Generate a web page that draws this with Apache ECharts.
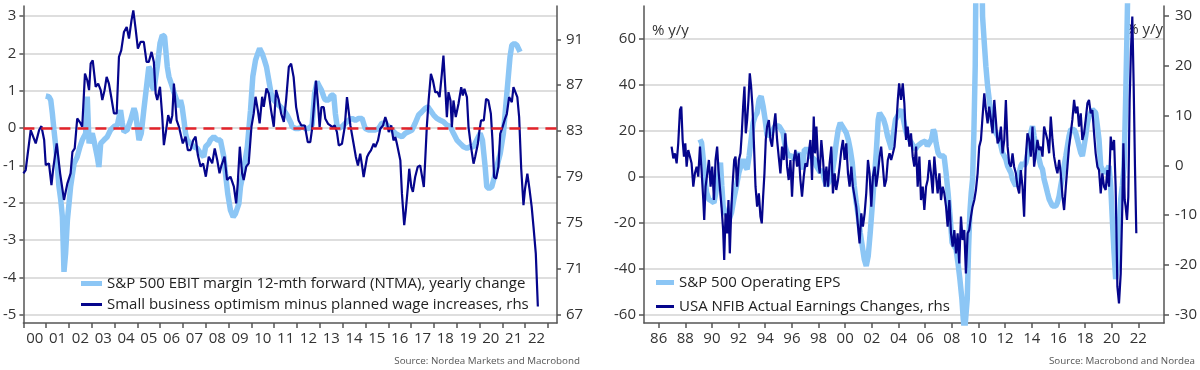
<!DOCTYPE html>
<html>
<head>
<meta charset="utf-8">
<script src="https://cdn.jsdelivr.net/npm/echarts@6/dist/echarts.min.js"></script>
<style>
html,body{margin:0;padding:0;background:#fff;}
#chart{width:1200px;height:370px;}
</style>
</head>
<body>
<div id="chart"></div>
<script>
// ---------- Left chart data ----------
const leftXTicks = [2000,2001,2002,2003,2004,2005,2006,2007,2008,2009,2010,2011,2012,2013,2014,2015,2016,2017,2018,2019,2020,2021,2022,2023];
const leftXLabelPos = [2000.5,2001.5,2002.5,2003.5,2004.5,2005.5,2006.5,2007.5,2008.5,2009.5,2010.5,2011.5,2012.5,2013.5,2014.5,2015.5,2016.5,2017.5,2018.5,2019.5,2020.5,2021.5,2022.5];
const leftYTicks = [-5,-4,-3,-2,-1,0,1,2,3];
const leftY2Ticks = [67,71,75,79,83,87,91];

const ebitMarginName = 'S&P 500 EBIT margin 12-mth forward (NTMA), yearly change';
const ebitMargin = [
[2000.98,0.86],[2001.12,0.84],[2001.20,0.75],[2001.27,0.39],[2001.34,-0.05],[2001.42,-0.50],[2001.49,-1.04],[2001.56,-1.57],[2001.64,-1.93],[2001.71,-2.38],[2001.78,-3.85],[2001.85,-3.36],[2001.93,-2.46],[2002.00,-2.02],[2002.07,-1.57],[2002.22,-0.95],[2002.36,-0.77],[2002.48,-0.50],[2002.58,-0.32],[2002.66,-0.23],[2002.73,-0.14],[2002.80,0.84],[2002.88,-0.41],[2002.95,-0.23],[2003.02,-0.14],[2003.09,-0.32],[2003.24,-0.77],[2003.31,-1.04],[2003.39,-0.41],[2003.53,-0.32],[2003.68,-0.23],[2003.82,-0.05],[2003.97,0.04],[2004.12,0.08],[2004.26,0.48],[2004.34,0.13],[2004.41,-0.10],[2004.55,-0.05],[2004.70,0.21],[2004.85,0.53],[2004.92,0.39],[2005.07,-0.32],[2005.17,-0.14],[2005.28,0.48],[2005.40,1.11],[2005.50,1.64],[2005.58,1.55],[2005.65,1.11],[2005.72,1.02],[2005.80,1.02],[2005.87,1.64],[2005.99,2.27],[2006.09,2.49],[2006.19,2.45],[2006.31,1.64],[2006.38,1.38],[2006.48,1.20],[2006.57,1.02],[2006.67,0.84],[2006.74,0.84],[2006.82,0.57],[2006.89,0.75],[2006.96,0.57],[2007.04,0.21],[2007.11,-0.14],[2007.18,-0.32],[2007.33,-0.41],[2007.47,-0.50],[2007.62,-0.54],[2007.77,-0.68],[2007.91,-0.77],[2007.99,-0.50],[2008.13,-0.41],[2008.20,-0.32],[2008.35,-0.23],[2008.50,-0.32],[2008.64,-0.32],[2008.79,-0.77],[2008.86,-1.21],[2008.96,-1.75],[2009.08,-2.20],[2009.20,-2.38],[2009.30,-2.29],[2009.45,-2.02],[2009.52,-1.57],[2009.66,-1.13],[2009.82,-0.50],[2009.96,0.48],[2010.06,1.38],[2010.18,1.82],[2010.28,2.00],[2010.36,2.13],[2010.47,2.00],[2010.57,1.82],[2010.66,1.64],[2010.76,1.29],[2010.86,0.93],[2010.98,0.75],[2011.12,0.66],[2011.27,0.57],[2011.42,0.48],[2011.56,0.35],[2011.74,0.13],[2011.78,0.04],[2011.93,-0.01],[2012.07,-0.01],[2012.22,0.04],[2012.37,-0.01],[2012.51,-0.01],[2012.66,0.08],[2012.77,0.93],[2012.88,1.24],[2012.95,1.15],[2013.07,1.02],[2013.17,0.84],[2013.24,0.75],[2013.39,0.75],[2013.50,0.88],[2013.61,0.88],[2013.68,0.39],[2013.75,0.08],[2013.83,-0.01],[2013.97,0.04],[2014.12,0.13],[2014.26,0.21],[2014.41,0.26],[2014.56,0.21],[2014.70,0.26],[2014.85,0.26],[2014.99,-0.01],[2015.14,-0.05],[2015.29,-0.05],[2015.43,-0.05],[2015.58,-0.01],[2015.72,0.13],[2015.87,0.13],[2016.02,0.04],[2016.16,-0.05],[2016.31,-0.14],[2016.45,-0.19],[2016.60,-0.23],[2016.75,-0.14],[2016.89,-0.10],[2017.04,-0.05],[2017.18,0.13],[2017.33,0.35],[2017.48,0.44],[2017.62,0.53],[2017.74,0.57],[2017.84,0.48],[2017.99,0.35],[2018.13,0.26],[2018.28,0.21],[2018.42,0.17],[2018.57,0.08],[2018.72,0.04],[2018.86,-0.14],[2019.01,-0.32],[2019.15,-0.41],[2019.30,-0.50],[2019.45,-0.54],[2019.59,-0.50],[2019.74,-0.50],[2019.88,-0.32],[2020.03,-0.14],[2020.13,-0.32],[2020.25,-1.04],[2020.32,-1.57],[2020.42,-1.62],[2020.54,-1.57],[2020.66,-1.30],[2020.76,-1.04],[2020.91,-0.68],[2021.05,-0.14],[2021.15,0.57],[2021.24,1.20],[2021.34,1.91],[2021.42,2.22],[2021.53,2.27],[2021.64,2.22],[2021.78,2.04]
];

const smallBizName = 'Small business optimism minus planned wage increases, rhs';
const smallBiz = [
[2000.00,79.32],[2000.10,79.61],[2000.32,83.09],[2000.39,83.23],[2000.54,81.93],[2000.69,83.09],[2000.79,83.43],[2000.91,82.22],[2000.98,80.04],[2001.12,80.19],[2001.23,78.30],[2001.30,79.61],[2001.46,81.93],[2001.61,79.32],[2001.78,77.00],[2001.93,78.45],[2002.07,79.32],[2002.15,81.20],[2002.25,81.49],[2002.36,84.10],[2002.51,83.67],[2002.58,83.38],[2002.70,88.01],[2002.80,87.43],[2002.88,86.57],[2002.95,88.88],[2003.04,89.17],[2003.17,86.86],[2003.28,87.14],[2003.39,86.57],[2003.46,85.70],[2003.56,86.57],[2003.65,87.72],[2003.75,87.14],[2003.85,85.99],[2003.97,84.54],[2004.09,84.54],[2004.19,89.46],[2004.29,90.04],[2004.41,91.64],[2004.53,92.07],[2004.63,91.06],[2004.74,92.65],[2004.82,93.52],[2004.92,91.93],[2005.02,90.19],[2005.14,90.77],[2005.28,90.77],[2005.40,89.03],[2005.50,89.03],[2005.62,89.90],[2005.72,89.03],[2005.80,86.28],[2005.87,85.70],[2005.99,86.86],[2006.09,84.25],[2006.16,81.78],[2006.26,83.09],[2006.35,84.39],[2006.45,83.67],[2006.53,84.39],[2006.60,87.14],[2006.72,83.96],[2006.82,83.38],[2006.89,82.80],[2006.99,81.93],[2007.11,82.51],[2007.21,81.35],[2007.33,81.35],[2007.45,82.22],[2007.55,82.51],[2007.65,80.91],[2007.77,79.90],[2007.88,80.19],[2008.00,79.03],[2008.13,80.77],[2008.28,80.19],[2008.39,81.49],[2008.50,80.48],[2008.60,79.32],[2008.69,80.04],[2008.82,80.77],[2008.93,78.74],[2009.08,79.03],[2009.23,78.16],[2009.33,76.71],[2009.40,78.45],[2009.49,81.64],[2009.59,79.32],[2009.66,78.74],[2009.77,79.90],[2009.88,80.19],[2010.00,83.38],[2010.10,84.54],[2010.18,85.99],[2010.28,84.83],[2010.36,83.67],[2010.47,85.99],[2010.54,85.12],[2010.66,86.71],[2010.76,86.28],[2010.86,84.83],[2010.98,83.38],[2011.08,86.57],[2011.20,85.70],[2011.30,84.54],[2011.42,83.81],[2011.52,85.70],[2011.64,88.59],[2011.74,88.88],[2011.85,87.70],[2011.96,85.09],[2012.07,83.93],[2012.19,83.49],[2012.34,83.49],[2012.47,82.04],[2012.58,82.04],[2012.66,83.20],[2012.73,83.35],[2012.83,87.41],[2012.91,85.67],[2012.99,83.35],[2013.07,85.09],[2013.17,85.09],[2013.24,84.07],[2013.36,83.64],[2013.46,83.49],[2013.56,83.35],[2013.65,83.49],[2013.75,82.91],[2013.83,81.75],[2013.97,81.90],[2014.09,83.35],[2014.19,85.96],[2014.26,84.80],[2014.34,83.49],[2014.41,83.35],[2014.48,81.90],[2014.58,80.74],[2014.67,80.01],[2014.77,81.03],[2014.85,80.01],[2014.92,79.00],[2014.99,78.86],[2015.07,80.74],[2015.14,81.03],[2015.24,81.32],[2015.36,81.90],[2015.43,81.61],[2015.55,82.19],[2015.65,83.20],[2015.77,83.49],[2015.87,84.22],[2015.94,83.78],[2016.02,82.91],[2016.13,83.49],[2016.23,82.19],[2016.31,82.48],[2016.38,81.90],[2016.45,81.75],[2016.53,80.45],[2016.60,77.55],[2016.70,74.80],[2016.77,76.10],[2016.86,78.13],[2016.92,79.72],[2017.01,78.13],[2017.08,77.70],[2017.18,79.00],[2017.29,79.87],[2017.40,80.01],[2017.48,80.16],[2017.56,78.13],[2017.62,80.45],[2017.69,83.35],[2017.77,85.67],[2017.87,87.99],[2017.96,87.41],[2018.06,86.39],[2018.16,86.39],[2018.25,85.96],[2018.35,87.99],[2018.42,89.58],[2018.50,86.83],[2018.57,84.22],[2018.64,86.39],[2018.73,85.67],[2018.79,83.35],[2018.86,85.67],[2018.96,84.22],[2019.08,85.38],[2019.20,86.83],[2019.27,86.10],[2019.34,86.68],[2019.45,85.96],[2019.52,83.35],[2019.62,81.75],[2019.74,80.16],[2019.81,80.74],[2019.93,81.90],[2020.00,83.06],[2020.07,83.93],[2020.19,83.93],[2020.29,85.81],[2020.39,85.67],[2020.50,84.51],[2020.57,82.19],[2020.64,79.00],[2020.73,78.86],[2020.83,79.87],[2020.91,82.77],[2021.01,83.35],[2021.12,84.07],[2021.20,84.51],[2021.30,85.96],[2021.42,85.52],[2021.49,86.83],[2021.56,86.97],[2021.66,85.96],[2021.74,84.22],[2021.83,79.74],[2021.93,76.55],[2022.00,78.00],[2022.10,79.30],[2022.19,78.00],[2022.29,76.39],[2022.37,74.65],[2022.47,72.33],[2022.56,67.72]
];

// ---------- Right chart data ----------
const rightXTicks = [1986,1988,1990,1992,1994,1996,1998,2000,2002,2004,2006,2008,2010,2012,2014,2016,2018,2020,2022];
const rightYTicks = [-60,-40,-20,0,20,40,60];
const rightY2Ticks = [-30,-20,-10,0,10,20,30];

const epsName = 'S&P 500 Operating EPS';
const eps = [
[1989.10,16.23],[1989.22,14.78],[1989.35,7.54],[1989.47,-1.16],[1989.60,-6.96],[1989.77,-9.86],[1989.97,-10.58],[1990.15,-11.30],[1990.29,-6.96],[1990.47,-1.16],[1990.64,6.09],[1990.74,-4.06],[1990.84,-12.75],[1990.99,-15.65],[1991.14,-17.10],[1991.29,-18.55],[1991.47,-15.65],[1991.64,-9.86],[1991.84,-4.06],[1992.02,1.74],[1992.17,4.64],[1992.34,7.54],[1992.49,4.64],[1992.64,3.19],[1992.79,8.99],[1992.94,16.23],[1993.09,23.48],[1993.24,26.38],[1993.39,27.83],[1993.54,33.62],[1993.69,35.07],[1993.84,30.72],[1993.99,24.93],[1994.14,17.68],[1994.29,17.68],[1994.44,19.13],[1994.59,20.58],[1994.74,22.03],[1994.89,22.75],[1995.04,22.03],[1995.19,22.03],[1995.34,19.13],[1995.49,13.33],[1995.64,10.43],[1995.79,8.99],[1995.99,8.99],[1996.19,7.54],[1996.34,8.99],[1996.49,10.43],[1996.64,7.54],[1996.79,3.19],[1996.94,11.88],[1997.09,12.61],[1997.24,11.88],[1997.39,8.99],[1997.54,8.99],[1997.69,7.54],[1997.84,4.64],[1997.99,3.19],[1998.14,1.74],[1998.29,3.19],[1998.44,-1.16],[1998.59,-4.06],[1998.73,-4.06],[1998.88,-1.16],[1999.03,1.74],[1999.18,7.54],[1999.33,14.78],[1999.48,20.58],[1999.63,23.48],[1999.78,22.03],[1999.93,20.58],[2000.08,19.13],[2000.23,16.23],[2000.38,11.88],[2000.53,6.09],[2000.68,-4.06],[2000.83,-11.30],[2000.98,-17.10],[2001.13,-24.35],[2001.28,-30.14],[2001.43,-35.94],[2001.58,-38.84],[2001.73,-34.49],[2001.88,-24.35],[2002.03,-12.75],[2002.18,-1.16],[2002.33,10.43],[2002.48,24.93],[2002.58,27.83],[2002.73,27.83],[2002.88,24.93],[2003.03,22.03],[2003.18,17.68],[2003.33,14.78],[2003.48,11.88],[2003.63,19.13],[2003.78,24.93],[2003.93,26.38],[2004.08,27.83],[2004.23,29.28],[2004.37,24.93],[2004.52,20.58],[2004.67,17.68],[2004.82,16.23],[2004.97,14.78],[2005.12,13.33],[2005.27,11.88],[2005.42,13.33],[2005.57,14.06],[2005.72,14.78],[2005.87,14.78],[2006.02,15.51],[2006.17,13.33],[2006.32,14.78],[2006.47,16.23],[2006.62,20.58],[2006.72,19.13],[2006.82,14.78],[2006.97,10.43],[2007.12,8.99],[2007.27,8.99],[2007.42,8.99],[2007.57,1.74],[2007.72,-6.96],[2007.87,-17.10],[2008.02,-28.70],[2008.17,-30.14],[2008.32,-31.59],[2008.46,-37.39],[2008.61,-44.64],[2008.76,-53.33],[2008.86,-62.03],[2008.96,-67.83],[2009.06,-67.83],[2009.16,-53.33],[2009.26,-31.59],[2009.36,-15.65],[2009.46,-6.96],[2009.56,-1.16],[2009.66,19.13],[2009.76,48.12],[2009.86,120],[2010.06,180],[2010.31,69.86],[2010.44,58.26],[2010.56,48.12],[2010.69,39.42],[2010.81,33.62],[2010.94,27.83],[2011.06,23.48],[2011.19,20.58],[2011.31,19.13],[2011.44,17.68],[2011.56,16.23],[2011.69,13.33],[2011.81,10.43],[2011.94,8.99],[2012.06,7.54],[2012.19,4.64],[2012.31,3.19],[2012.44,1.74],[2012.56,-1.16],[2012.68,-2.61],[2012.81,-4.06],[2012.93,-1.16],[2013.06,1.74],[2013.18,4.64],[2013.31,6.09],[2013.43,4.64],[2013.56,6.09],[2013.68,8.99],[2013.81,14.78],[2013.93,19.13],[2014.06,22.03],[2014.18,17.68],[2014.31,13.33],[2014.43,10.43],[2014.56,7.54],[2014.68,4.64],[2014.81,3.19],[2014.93,-1.16],[2015.06,-4.06],[2015.18,-6.96],[2015.31,-9.86],[2015.43,-11.30],[2015.56,-12.75],[2015.68,-13.48],[2015.81,-12.75],[2015.93,-11.30],[2016.06,-8.41],[2016.18,-4.06],[2016.31,0.29],[2016.43,4.64],[2016.56,8.99],[2016.68,13.33],[2016.80,17.68],[2016.93,20.58],[2017.05,21.30],[2017.18,20.58],[2017.30,19.13],[2017.43,16.23],[2017.55,13.33],[2017.68,10.43],[2017.80,8.99],[2017.93,13.33],[2018.05,17.68],[2018.18,23.48],[2018.30,26.38],[2018.43,27.83],[2018.55,29.28],[2018.68,29.28],[2018.80,27.83],[2018.93,22.03],[2019.05,16.23],[2019.18,4.64],[2019.30,3.19],[2019.43,1.74],[2019.55,1.74],[2019.68,3.19],[2019.80,4.64],[2019.93,-4.06],[2020.05,-18.55],[2020.18,-33.04],[2020.30,-44.64],[2020.43,-38.84],[2020.55,-24.35],[2020.68,-9.86],[2020.80,-4.06],[2020.93,4.64],[2021.05,33.62],[2021.15,62.61],[2021.25,95]
];

const nfibName = 'USA NFIB Actual Earnings Changes, rhs';
const nfib = [
[1986.97,3.75],[1987.10,1.41],[1987.22,2.41],[1987.35,0.40],[1987.47,4.42],[1987.60,11.12],[1987.70,11.79],[1987.80,5.09],[1987.90,1.74],[1988.00,4.42],[1988.10,-0.27],[1988.22,3.08],[1988.35,1.74],[1988.47,0.40],[1988.60,-4.29],[1988.72,-1.61],[1988.85,-0.27],[1988.97,-2.28],[1989.10,3.75],[1989.22,-0.94],[1989.35,-6.97],[1989.42,-10.98],[1989.52,-4.29],[1989.65,-1.61],[1989.77,1.07],[1989.90,-4.29],[1990.02,-0.27],[1990.15,-6.97],[1990.27,1.07],[1990.39,3.75],[1990.49,-0.94],[1990.59,-4.29],[1990.72,-8.31],[1990.84,-12.99],[1990.92,-19.02],[1991.02,-9.65],[1991.14,-13.66],[1991.24,-6.97],[1991.34,-17.68],[1991.44,-9.65],[1991.54,-4.29],[1991.67,1.07],[1991.77,1.74],[1991.89,-4.29],[1992.02,1.07],[1992.14,2.41],[1992.24,6.43],[1992.34,11.79],[1992.44,15.81],[1992.54,6.43],[1992.64,9.11],[1992.74,13.13],[1992.84,18.49],[1992.94,15.81],[1993.04,11.79],[1993.14,5.09],[1993.27,-4.29],[1993.39,-8.31],[1993.52,-5.63],[1993.64,-10.31],[1993.74,-11.65],[1993.84,-6.30],[1993.94,-1.61],[1994.04,5.09],[1994.14,7.77],[1994.27,9.11],[1994.39,5.09],[1994.51,3.75],[1994.64,7.77],[1994.76,10.45],[1994.89,5.09],[1995.01,1.74],[1995.14,-1.61],[1995.26,3.75],[1995.39,1.07],[1995.51,6.43],[1995.64,-0.27],[1995.76,-2.95],[1995.89,1.07],[1996.01,-6.30],[1996.14,1.07],[1996.26,3.08],[1996.39,-0.27],[1996.51,2.41],[1996.64,-2.95],[1996.76,-6.30],[1996.89,-2.28],[1997.01,0.40],[1997.14,-0.27],[1997.26,2.41],[1997.39,5.09],[1997.51,-2.95],[1997.64,9.78],[1997.74,2.41],[1997.84,7.77],[1997.96,1.07],[1998.09,-1.61],[1998.21,5.09],[1998.34,1.07],[1998.46,-4.29],[1998.59,-0.27],[1998.71,-4.29],[1998.83,0.40],[1998.96,3.75],[1999.08,-5.63],[1999.21,-1.61],[1999.33,-4.96],[1999.46,-2.95],[1999.58,-0.27],[1999.71,3.08],[1999.83,5.09],[1999.96,1.07],[2000.08,4.42],[2000.21,-1.61],[2000.33,-4.29],[2000.46,-0.27],[2000.58,-4.29],[2000.71,-4.29],[2000.83,-8.31],[2000.96,-8.31],[2001.08,-15.67],[2001.21,-9.65],[2001.33,-12.32],[2001.46,-9.65],[2001.58,-5.63],[2001.71,1.07],[2001.83,-1.61],[2001.96,-8.31],[2002.08,-2.28],[2002.21,-0.27],[2002.33,-4.29],[2002.46,-1.61],[2002.58,1.74],[2002.70,3.75],[2002.83,-0.27],[2002.95,-4.29],[2003.08,-2.95],[2003.20,1.07],[2003.33,2.41],[2003.45,1.07],[2003.58,2.41],[2003.70,3.75],[2003.83,7.77],[2003.95,13.13],[2004.05,16.48],[2004.19,13.13],[2004.32,16.48],[2004.44,12.46],[2004.57,5.09],[2004.69,7.77],[2004.82,3.75],[2004.94,6.43],[2005.07,1.74],[2005.19,-0.27],[2005.32,3.75],[2005.44,-4.29],[2005.57,1.74],[2005.69,-6.97],[2005.82,-4.29],[2005.94,-8.98],[2006.07,-4.29],[2006.19,-2.95],[2006.32,1.07],[2006.44,-1.61],[2006.57,-5.63],[2006.69,1.74],[2006.82,-2.28],[2006.94,-5.63],[2007.07,-1.61],[2007.19,-6.97],[2007.32,-4.29],[2007.44,-5.63],[2007.57,-8.31],[2007.69,-12.32],[2007.82,-6.97],[2007.94,-13.66],[2008.07,-16.34],[2008.19,-12.99],[2008.32,-17.68],[2008.44,-13.66],[2008.56,-19.69],[2008.69,-10.31],[2008.81,-15.00],[2008.94,-12.99],[2009.06,-21.70],[2009.19,-13.66],[2009.31,-12.99],[2009.44,-10.31],[2009.56,-8.31],[2009.69,-6.97],[2009.81,-4.96],[2009.94,-1.61],[2010.06,3.75],[2010.19,5.09],[2010.31,9.78],[2010.44,14.47],[2010.56,11.12],[2010.69,8.44],[2010.81,11.79],[2010.94,9.11],[2011.06,6.43],[2011.19,13.13],[2011.31,9.11],[2011.44,4.42],[2011.56,5.09],[2011.69,7.77],[2011.81,2.41],[2011.94,5.09],[2012.06,13.13],[2012.19,3.75],[2012.31,0.40],[2012.44,-0.27],[2012.56,2.41],[2012.68,-0.27],[2012.81,-1.61],[2012.93,-4.29],[2013.06,-5.63],[2013.18,-0.94],[2013.31,-4.29],[2013.43,-10.31],[2013.56,1.74],[2013.68,6.43],[2013.81,5.09],[2013.93,1.74],[2014.06,7.77],[2014.18,-0.27],[2014.31,2.41],[2014.43,5.09],[2014.56,3.08],[2014.68,3.75],[2014.81,1.74],[2014.93,7.77],[2015.06,6.43],[2015.18,5.09],[2015.31,2.41],[2015.43,9.78],[2015.56,5.09],[2015.68,1.74],[2015.81,-0.27],[2015.93,-1.61],[2016.06,1.07],[2016.18,-1.61],[2016.31,-6.30],[2016.43,-8.98],[2016.56,-4.29],[2016.68,-0.27],[2016.80,3.75],[2016.93,6.43],[2017.05,9.11],[2017.18,13.13],[2017.30,10.45],[2017.43,11.79],[2017.55,7.77],[2017.68,10.45],[2017.80,5.09],[2017.93,6.43],[2018.05,9.11],[2018.18,12.46],[2018.30,13.13],[2018.43,10.45],[2018.55,11.12],[2018.68,6.43],[2018.80,2.41],[2018.93,-0.27],[2019.05,-0.94],[2019.18,-5.63],[2019.30,-1.61],[2019.43,-4.29],[2019.55,-4.96],[2019.68,-0.94],[2019.80,-4.29],[2019.93,5.76],[2020.05,3.08],[2020.18,5.09],[2020.30,-4.29],[2020.43,-24.38],[2020.55,-27.73],[2020.68,-21.70],[2020.80,-8.31],[2020.88,4.42],[2020.98,-6.97],[2021.05,-8.31],[2021.15,-10.98],[2021.25,-6.30],[2021.35,13.13],[2021.45,23.17],[2021.55,29.87],[2021.65,16.48],[2021.75,-0.27],[2021.85,-13.66]
];

// ---------- Styles ----------
const LIGHT = '#8cc6f5';
const DARK = '#05058c';
const AXIS = '#555';
const GRIDC = '#d3d3d3';
const FONT = 'Open Sans';
const labelStyle = {color:'#333', fontSize:15, fontFamily:FONT};
const legendText = {color:'#222', fontSize:15, fontFamily:FONT};

function yr2(v){ return String(((Math.floor(v) % 100) + 100) % 100).padStart(2,'0'); }

const chart = echarts.init(document.getElementById('chart'), null, {renderer:'canvas'});

const option = {
  animation:false,
  backgroundColor:'#fff',
  grid:[
    {left:22, right:643, top:6, bottom:47},
    {left:644, right:35, top:6, bottom:47}
  ],
  legend:[
    {data:[ebitMarginName], left:81, top:276, icon:'rect', itemWidth:21, itemHeight:5, selectedMode:false, padding:0, textStyle:legendText},
    {data:[smallBizName], left:81, top:297, icon:'rect', itemWidth:21, itemHeight:3, selectedMode:false, padding:0, textStyle:legendText},
    {data:[epsName], left:656, top:275, icon:'rect', itemWidth:18, itemHeight:5, selectedMode:false, padding:0, textStyle:legendText},
    {data:[nfibName], left:656, top:299, icon:'rect', itemWidth:18, itemHeight:3, selectedMode:false, padding:0, textStyle:legendText}
  ],
  xAxis:[
    {type:'value', gridIndex:0, min:2000, max:2023.4,
     axisLine:{show:true, onZero:false, lineStyle:{color:AXIS, width:1.5}},
     axisTick:{show:true, length:5, customValues:leftXTicks, lineStyle:{color:AXIS, width:1.5}},
     axisLabel:{customValues:leftXLabelPos, margin:8, formatter:yr2, ...labelStyle},
     splitLine:{show:false}},
    {type:'value', gridIndex:1, min:1984.9, max:2023.93,
     axisLine:{show:true, onZero:false, lineStyle:{color:AXIS, width:1.5}},
     axisTick:{show:true, length:5, customValues:rightXTicks, lineStyle:{color:AXIS, width:1.5}},
     axisLabel:{customValues:rightXTicks, margin:8, formatter:yr2, ...labelStyle},
     splitLine:{show:false}}
  ],
  yAxis:[
    {type:'value', gridIndex:0, position:'left', min:-5.22, max:3.27,
     axisLine:{show:true, onZero:false, lineStyle:{color:AXIS, width:1.5}},
     axisTick:{show:true, length:4, customValues:leftYTicks, lineStyle:{color:AXIS, width:1.5}},
     axisLabel:{customValues:leftYTicks, margin:7, ...labelStyle},
     splitLine:{show:true, lineStyle:{color:GRIDC, width:1.5}}},
    {type:'value', gridIndex:0, position:'right', min:66.28, max:93.9,
     axisLine:{show:true, onZero:false, lineStyle:{color:AXIS, width:1.5}},
     axisTick:{show:true, length:4, customValues:leftY2Ticks, lineStyle:{color:AXIS, width:1.5}},
     axisLabel:{customValues:leftY2Ticks, margin:9, ...labelStyle},
     splitLine:{show:false}},
    {type:'value', gridIndex:1, position:'left', min:-63.74, max:74.36,
     axisLine:{show:true, onZero:false, lineStyle:{color:AXIS, width:1.5}},
     axisTick:{show:true, length:5, customValues:rightYTicks, lineStyle:{color:AXIS, width:1.5}},
     axisLabel:{customValues:rightYTicks, margin:8, ...labelStyle},
     splitLine:{show:true, lineStyle:{color:GRIDC, width:1.5}}},
    {type:'value', gridIndex:1, position:'right', min:-31.67, max:32.0,
     axisLine:{show:true, onZero:false, lineStyle:{color:AXIS, width:1.5}},
     axisTick:{show:true, length:5, customValues:rightY2Ticks, lineStyle:{color:AXIS, width:1.5}},
     axisLabel:{customValues:rightY2Ticks, margin:11, ...labelStyle},
     splitLine:{show:false}}
  ],
  graphic:[
    {type:'text', left:652, top:23, z:0, style:{text:'% y/y', fill:'#333', font:'15px "Open Sans"'}},
    {type:'text', right:37, top:22, z:0, style:{text:'% y/y', fill:'#333', font:'15px "Open Sans"'}},
    {type:'text', right:620, top:356, style:{text:'Source: Nordea Markets and Macrobond', fill:'#555', font:'9.8px "Open Sans"'}},
    {type:'text', right:5, top:356, style:{text:'Source: Macrobond and Nordea', fill:'#555', font:'9.8px "Open Sans"'}}
  ],
  series:[
    {name:ebitMarginName, type:'line', xAxisIndex:0, yAxisIndex:0, data:ebitMargin, showSymbol:false, symbol:'none',
     lineStyle:{color:LIGHT, width:5.5}, itemStyle:{color:LIGHT}, z:2,
     markLine:{silent:true, symbol:['none','none'], label:{show:false},
       lineStyle:{color:'#e3232a', type:[11,7], width:2.5}, data:[{yAxis:0}]}},
    {name:smallBizName, type:'line', xAxisIndex:0, yAxisIndex:1, data:smallBiz, showSymbol:false, symbol:'none',
     lineStyle:{color:DARK, width:2.2}, itemStyle:{color:DARK}, z:3},
    {name:epsName, type:'line', xAxisIndex:1, yAxisIndex:2, data:eps, showSymbol:false, symbol:'none',
     lineStyle:{color:LIGHT, width:5.5}, itemStyle:{color:LIGHT}, z:2},
    {name:nfibName, type:'line', xAxisIndex:1, yAxisIndex:3, data:nfib, showSymbol:false, symbol:'none',
     lineStyle:{color:DARK, width:2.2}, itemStyle:{color:DARK}, z:3}
  ]
};
chart.setOption(option);
</script>
</body>
</html>
